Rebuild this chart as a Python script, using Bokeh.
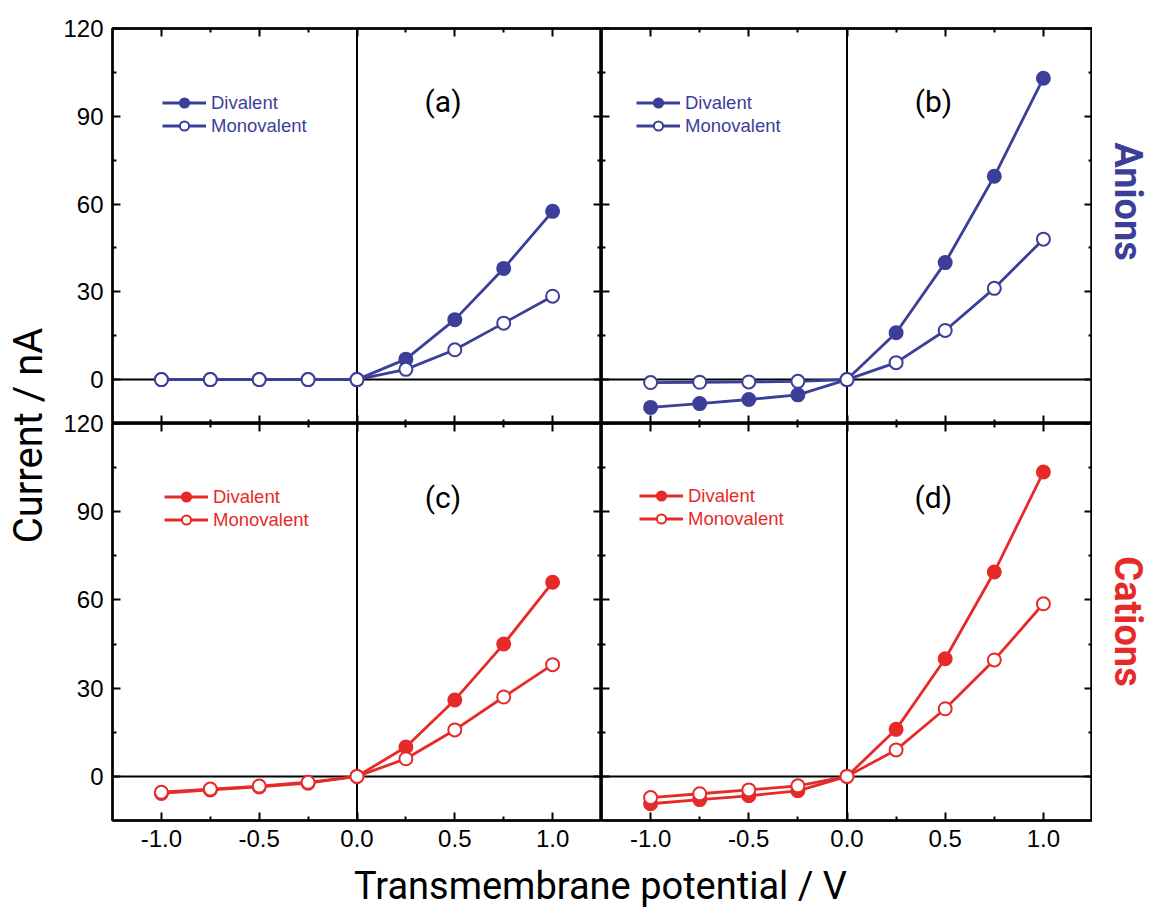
import math
from bokeh.plotting import figure
from bokeh.layouts import row, column
from bokeh.models import (FixedTicker, LinearAxis, Span, Legend, LegendItem,
                          Label, Range1d)
from bokeh.core.properties import value
from bokeh.embed import file_html
from bokeh.resources import INLINE

# ---------------- data ----------------
voltage = [-1.0, -0.75, -0.5, -0.25, 0.0, 0.25, 0.5, 0.75, 1.0]

a_divalent = [0.0, 0.0, 0.0, 0.0, 0.0, 7.0, 20.5, 38.0, 57.5]
a_monovalent = [0.0, 0.0, 0.0, 0.0, 0.0, 3.5, 10.2, 19.3, 28.5]

b_divalent = [-9.5, -8.2, -6.8, -5.2, 0.0, 16.0, 40.0, 69.5, 103.0]
b_monovalent = [-1.0, -0.9, -0.8, -0.6, 0.0, 5.8, 16.8, 31.2, 48.0]

c_divalent = [-5.8, -4.6, -3.6, -2.3, 0.0, 10.0, 26.0, 45.0, 66.0]
c_monovalent = [-5.4, -4.3, -3.3, -2.0, 0.0, 6.0, 15.8, 27.0, 38.0]

d_divalent = [-9.3, -7.9, -6.6, -4.9, 0.0, 16.0, 40.0, 69.5, 103.5]
d_monovalent = [-7.2, -5.9, -4.6, -3.2, 0.0, 9.0, 23.0, 39.6, 58.7]

series_names = ["Divalent", "Monovalent"]
panel_tags = ["(a)", "(b)", "(c)", "(d)"]
row_titles = ["Anions", "Cations"]

x_ticks = [-1.0, -0.5, 0.0, 0.5, 1.0]
x_tick_labels = ["-1.0", "-0.5", "0.0", "0.5", "1.0"]
x_minor = [-0.75, -0.25, 0.25, 0.75]
y_ticks = [0, 30, 60, 90, 120]
y_tick_labels = ["0", "30", "60", "90", "120"]
y_minor = [15, 45, 75, 105]

x_title = "Transmembrane potential / V"
y_title = "Current / nA"

# ---------------- style ----------------
BLUE = "#3B3F99"
RED = "#E62A2A"
NUM_FONT = "Liberation Sans"
TITLE_FONT = "Roboto"
TOTAL_H = 907


def add_axis(p, side, ticks, minor, labels, show):
    ax = LinearAxis(
        ticker=FixedTicker(ticks=ticks, minor_ticks=minor),
        major_label_overrides={t: l for t, l in zip(ticks, labels)},
        major_tick_in=8, major_tick_out=0, minor_tick_in=4, minor_tick_out=0,
        major_tick_line_width=2, minor_tick_line_width=2,
        major_tick_line_color="black", minor_tick_line_color="black",
        axis_line_color="black", axis_line_width=2,
        major_label_text_font=NUM_FONT,
        major_label_text_font_size="24px" if show else "0px",
        major_label_standoff=9 if show else 0,
        major_label_text_color="black" if show else None,
    )
    p.add_layout(ax, side)


def make_panel(div, mono, color, tag, left_col, top_row, legend_xy):
    fw = 489 if left_col else 491
    fh = 395 if top_row else 397
    kw = dict(
        frame_width=fw, frame_height=fh,
        x_range=Range1d(-1.25, 1.25), y_range=Range1d(-15, 120),
        output_backend="svg", toolbar_location=None,
        x_axis_location=None, y_axis_location=None,
        min_border_left=50 if left_col else 0,
        min_border_right=0,
        min_border_top=28 if top_row else 12,
        min_border_bottom=0 if top_row else 38,
        outline_line_color="black", outline_line_width=2.5,
        background_fill_color="white",
    )
    if not top_row:
        kw["margin"] = (-12, 0, 0, 0)
        kw["border_fill_alpha"] = 0
    p = figure(**kw)
    p.xgrid.visible = False
    p.ygrid.visible = False

    add_axis(p, "left", y_ticks, y_minor, y_tick_labels, left_col)
    add_axis(p, "right", y_ticks, y_minor, y_tick_labels, False)
    add_axis(p, "above", x_ticks, x_minor, x_tick_labels, False)
    add_axis(p, "below", x_ticks, x_minor, x_tick_labels, not top_row)

    p.add_layout(Span(location=0, dimension="width", line_color="black",
                      line_width=2, level="underlay"))
    p.add_layout(Span(location=0, dimension="height", line_color="black",
                      line_width=2, level="underlay"))

    l1 = p.line(voltage, div, line_color=color, line_width=2.8)
    s1 = p.scatter(voltage, div, marker="circle", size=13, fill_color=color,
                   line_color=color, line_width=2)
    l2 = p.line(voltage, mono, line_color=color, line_width=2.8)
    s2 = p.scatter(voltage, mono, marker="circle", size=13, fill_color="white",
                   line_color=color, line_width=2)

    lx, ltop = legend_xy
    lh = 46
    legend = Legend(
        items=[LegendItem(label=series_names[0], renderers=[l1, s1]),
               LegendItem(label=series_names[1], renderers=[l2, s2])],
        location=(lx, fh - ltop - lh),
        label_text_font=NUM_FONT, label_text_font_size="18.5px",
        label_text_color=color, glyph_width=44, glyph_height=23,
        label_height=23, label_standoff=5, spacing=0, padding=0, margin=0,
        background_fill_alpha=0, border_line_alpha=0,
    )
    p.add_layout(legend)

    p.add_layout(Label(x=0.44, y=95, text=tag, text_font=TITLE_FONT,
                       text_font_size="30px", text_align="center",
                       text_baseline="middle", text_color="black"))
    return p


pa = make_panel(a_divalent, a_monovalent, BLUE, panel_tags[0], True, True, (50, 63))
pb = make_panel(b_divalent, b_monovalent, BLUE, panel_tags[1], False, True, (35, 63))
pc = make_panel(c_divalent, c_monovalent, RED, panel_tags[2], True, False, (52, 62))
pd = make_panel(d_divalent, d_monovalent, RED, panel_tags[3], False, False, (38, 61))


def text_fig(w, h):
    f = figure(frame_width=w, frame_height=h, x_range=Range1d(0, w),
               y_range=Range1d(0, h), output_backend="svg",
               toolbar_location=None, min_border=0, outline_line_color=None,
               x_axis_location=None, y_axis_location=None)
    f.xgrid.visible = False
    f.ygrid.visible = False
    return f


# y-axis title column
ylab = text_fig(60, TOTAL_H)
ylab.text(x=[28], y=[TOTAL_H - 435], text=[y_title], angle=math.pi / 2,
          text_align="center", text_baseline="middle",
          text_font=value(TITLE_FONT), text_font_size="40px", text_color="black")

# x-axis title row
xlab = text_fig(1030, 49)
xlab.text(x=[540], y=[22], text=[x_title], text_align="center",
          text_baseline="middle", text_font=value(TITLE_FONT),
          text_font_size="38px", text_color="black")

# row titles on the right
rlab = text_fig(58, TOTAL_H)
rlab.text(x=[35, 35], y=[TOTAL_H - 201, TOTAL_H - 621], text=row_titles,
          angle=-math.pi / 2, text_align="center", text_baseline="middle",
          text_font=value("Roboto"), text_font_style="bold",
          text_font_size="38px", text_color=[BLUE, RED])

layout = row(ylab, column(row(pa, pb), row(pc, pd), xlab), rlab)

open("out.html", "w").write(file_html(layout, INLINE))
